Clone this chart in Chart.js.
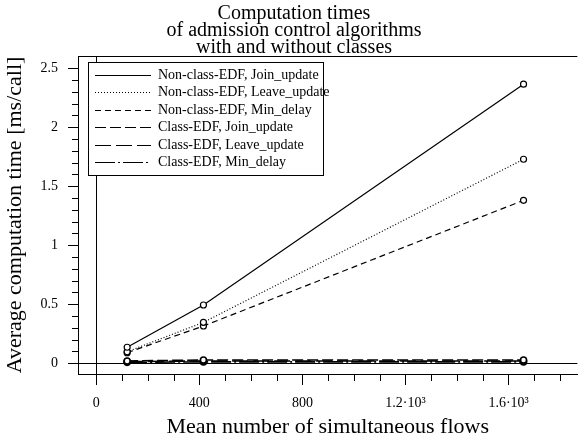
<!DOCTYPE html>
<html>
<head>
<meta charset="utf-8">
<script src="https://cdn.jsdelivr.net/npm/chart.js@4.4.1/dist/chart.umd.min.js"></script>
<style>
html, body { margin: 0; padding: 0; background: #fff; }
</style>
</head>
<body>
<canvas id="chart" width="583" height="439"></canvas>
<script>
// 数据
const flows = [120, 416, 1658];
const nonClassJoin = [0.136, 0.494, 2.365];
const nonClassLeave = [0.098, 0.347, 1.729];
const nonClassMin = [0.09, 0.316, 1.381];
const classJoin = [0.02, 0.028, 0.028];
const classLeave = [0.014, 0.02, 0.02];
const classMin = [0.008, 0.012, 0.012];

const seriesLabels = [
    'Non-class-EDF, Join_update',
    'Non-class-EDF, Leave_update',
    'Non-class-EDF, Min_delay',
    'Class-EDF, Join_update',
    'Class-EDF, Leave_update',
    'Class-EDF, Min_delay'
];

const titleLines = ['Computation times', 'of admission control algorithms', 'with and without classes'];

// 刻度
const xTicks = [0, 100, 200, 300, 400, 500, 600, 700, 800, 900, 1000, 1100, 1200, 1300, 1400, 1500, 1600, 1700, 1800];
const xMajor = [0, 400, 800, 1200, 1600];
const xMajorLabels = ['0', '400', '800', '1.2·10³', '1.6·10³'];
const yTicks = [0, 0.1, 0.2, 0.3, 0.4, 0.5, 0.6, 0.7, 0.8, 0.9, 1, 1.1, 1.2, 1.3, 1.4, 1.5, 1.6, 1.7, 1.8, 1.9, 2, 2.1, 2.2, 2.3, 2.4, 2.5];
const yMajor = [0, 0.5, 1, 1.5, 2, 2.5];
const yMajorLabels = ['0', '0.5', '1', '1.5', '2', '2.5'];

function majorIndex(list, v) {
    return list.findIndex(m => Math.abs(m - v) < 1e-9);
}

function toPoints(ys) {
    return flows.map((x, i) => ({x: x, y: ys[i]}));
}

function makeDataset(label, ys, dash, width) {
    return {
        label: label,
        data: toPoints(ys),
        borderColor: '#000',
        borderWidth: width,
        borderDash: dash,
        pointRadius: 3,
        pointBorderWidth: width,
        pointBorderColor: '#000',
        pointBackgroundColor: '#fff',
        fill: false,
        tension: 0
    };
}

Chart.defaults.font.family = "'Liberation Serif', 'Times New Roman', serif";
Chart.defaults.color = '#000';

// 边框、次刻度、图例、标题
const decorPlugin = {
    id: 'decor',
    afterDatasetsDraw(chart) {
        const ctx = chart.ctx;
        ctx.save();
        // 图例框
        ctx.fillStyle = '#fff';
        ctx.fillRect(88.5, 62.5, 235, 113);
        ctx.strokeStyle = '#000';
        ctx.lineWidth = 1;
        ctx.setLineDash([]);
        ctx.strokeRect(88.5, 62.5, 235, 113);
        ctx.font = "14px 'Liberation Serif'";
        ctx.textBaseline = 'middle';
        ctx.textAlign = 'left';
        ctx.fillStyle = '#000';
        chart.data.datasets.forEach((ds, i) => {
            const y = Math.round(75 + i * 17.4) + 0.5;
            ctx.lineWidth = 1.2;
            ctx.setLineDash(ds.borderDash || []);
            ctx.beginPath();
            ctx.moveTo(95, y);
            ctx.lineTo(151, y);
            ctx.stroke();
            ctx.fillText(ds.label, 158, y);
        });
        ctx.restore();
    },
    afterDraw(chart) {
        const ctx = chart.ctx;
        const area = chart.chartArea;
        const xs = chart.scales.x;
        const ys = chart.scales.y;
        ctx.save();
        ctx.strokeStyle = '#000';
        ctx.lineWidth = 1;
        ctx.setLineDash([]);
        // 顶边
        ctx.beginPath();
        ctx.moveTo(area.left, Math.round(area.top) + 0.5);
        ctx.lineTo(area.right, Math.round(area.top) + 0.5);
        ctx.stroke();
        // 次刻度
        ctx.beginPath();
        xTicks.forEach(v => {
            if (majorIndex(xMajor, v) >= 0) return;
            const px = Math.round(xs.getPixelForValue(v)) + 0.5;
            ctx.moveTo(px, area.bottom);
            ctx.lineTo(px, area.bottom + 7);
        });
        yTicks.forEach(v => {
            if (majorIndex(yMajor, v) >= 0) return;
            const py = Math.round(ys.getPixelForValue(v)) + 0.5;
            ctx.moveTo(area.left - 6, py);
            ctx.lineTo(area.left, py);
        });
        ctx.stroke();
        // 标题
        ctx.font = "20px 'Liberation Serif'";
        ctx.textAlign = 'center';
        ctx.textBaseline = 'alphabetic';
        ctx.fillStyle = '#000';
        titleLines.forEach((t, i) => {
            ctx.fillText(t, 294, 19 + i * 17);
        });
        ctx.restore();
    }
};

const ctx = document.getElementById('chart').getContext('2d');
const chart = new Chart(ctx, {
    type: 'line',
    data: {
        datasets: [
            makeDataset(seriesLabels[0], nonClassJoin, [], 1.2),
            makeDataset(seriesLabels[1], nonClassLeave, [1, 2], 1.2),
            makeDataset(seriesLabels[2], nonClassMin, [6, 4], 1.2),
            makeDataset(seriesLabels[3], classJoin, [11, 4], 1.6),
            makeDataset(seriesLabels[4], classLeave, [16, 5], 1.6),
            makeDataset(seriesLabels[5], classMin, [20, 3, 2, 3], 1.6)
        ]
    },
    options: {
        responsive: false,
        animation: false,
        devicePixelRatio: 1,
        layout: {padding: {top: 56, left: 0, right: 0, bottom: 0}},
        plugins: {
            legend: {display: false},
            title: {display: false},
            tooltip: {enabled: false}
        },
        scales: {
            x: {
                type: 'linear',
                min: -70.7,
                max: 1867,
                afterBuildTicks: s => { s.ticks = xTicks.map(v => ({value: v})); },
                afterFit: s => { s.height = 65; },
                ticks: {
                    autoSkip: false,
                    maxRotation: 0,
                    padding: 10,
                    font: {size: 14},
                    callback: v => {
                        const i = majorIndex(xMajor, v);
                        return i >= 0 ? xMajorLabels[i] : '';
                    }
                },
                grid: {
                    drawOnChartArea: true,
                    color: c => (c.tick && c.tick.value === 0 ? '#000' : 'rgba(0,0,0,0)'),
                    tickColor: c => (c.tick && majorIndex(xMajor, c.tick.value) >= 0 ? '#000' : 'rgba(0,0,0,0)'),
                    tickLength: 11,
                    lineWidth: 1
                },
                border: {display: true, color: '#000', width: 1},
                title: {
                    display: true,
                    text: 'Mean number of simultaneous flows',
                    font: {size: 22},
                    padding: {top: 0, bottom: -1}
                }
            },
            y: {
                type: 'linear',
                min: -0.0907,
                max: 2.604,
                afterBuildTicks: s => { s.ticks = yTicks.map(v => ({value: v})); },
                afterFit: s => { s.width = 78; },
                ticks: {
                    autoSkip: false,
                    padding: 10,
                    font: {size: 14},
                    callback: v => {
                        const i = majorIndex(yMajor, v);
                        return i >= 0 ? yMajorLabels[i] : '';
                    }
                },
                grid: {
                    drawOnChartArea: true,
                    color: c => (c.tick && c.tick.value === 0 ? '#000' : 'rgba(0,0,0,0)'),
                    tickColor: c => (c.tick && majorIndex(yMajor, c.tick.value) >= 0 ? '#000' : 'rgba(0,0,0,0)'),
                    tickLength: 10,
                    lineWidth: 1
                },
                border: {display: true, color: '#000', width: 1},
                title: {
                    display: true,
                    text: 'Average computation time [ms/call]',
                    font: {size: 22},
                    padding: {top: 2, bottom: 0}
                }
            }
        }
    },
    plugins: [decorPlugin]
});
</script>
</body>
</html>
